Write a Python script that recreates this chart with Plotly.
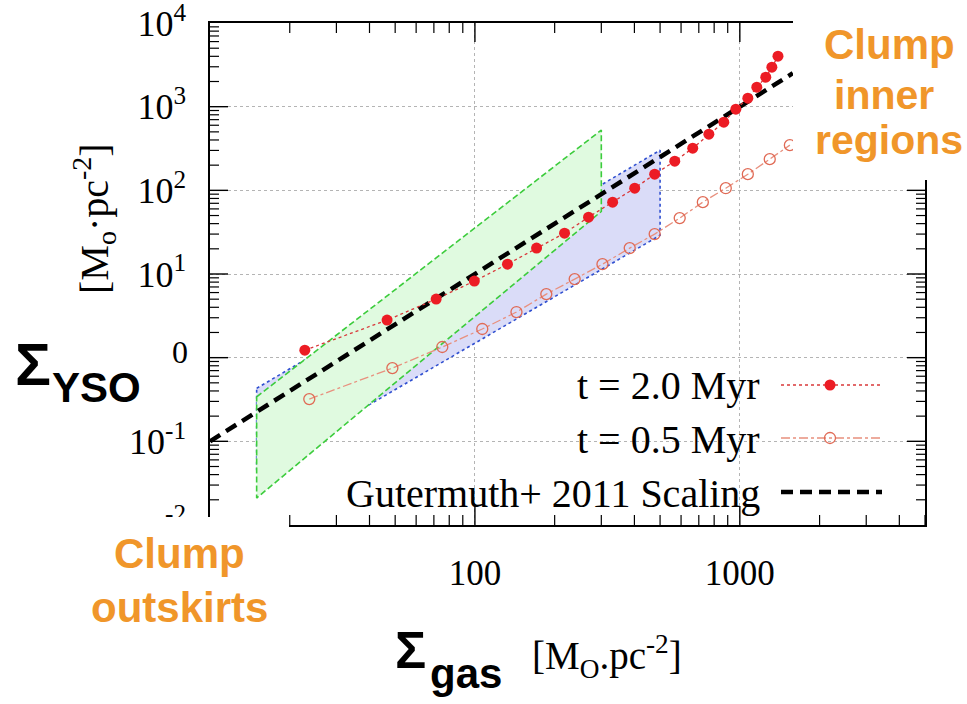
import math
import plotly.graph_objects as go

# ---------------- data ----------------
red_x = [22.8, 46.6, 71.4, 99.5, 132.7, 170.9, 217.9, 268.5, 331, 401, 477,
         568, 664, 764, 870, 966, 1072, 1159, 1253, 1321, 1393]
red_y = [1.23, 2.81, 5.01, 8.22, 13.1, 20.4, 30.8, 47.8, 72.3, 106, 156,
         223, 319, 469, 653, 934, 1264, 1710, 2250, 2964, 4009]

open_x = [23.7, 48.8, 75.3, 106.6, 143.5, 186, 238, 303, 384, 477, 593,
          725, 885, 1072, 1297, 1545]
open_y = [0.32, 0.75, 1.34, 2.20, 3.51, 5.75, 8.69, 13.1, 20.4, 30.0, 46.6,
          72.3, 106, 156, 236, 347]

gut_x = [10, 1585]
gut_y = [0.1, 2512]

green_x = [15, 300, 300, 15, 15]
green_y = [0.34, 525, 56, 0.021, 0.34]

blue_x = [15, 500, 500, 15, 15]
blue_y = [0.43, 302, 29, 0.045, 0.43]

legend_labels = ["t = 2.0 Myr", "t = 0.5 Myr", "Gutermuth+ 2011 Scaling"]

y_tickvals = [0.01, 0.1, 1, 10, 100, 1000, 10000]
y_ticktext = ["<sup>-2</sup>", "10<sup>-1</sup>", " ",
              "10<sup>1</sup>", "10<sup>2</sup>", "10<sup>3</sup>", "10<sup>4</sup>"]
x_tickvals = [100, 1000]
x_ticktext = ["100", "1000"]

x_major = [100, 1000]
x_minor = [k * 10 ** n for n in (1, 2, 3) for k in range(2, 10) if k * 10 ** n <= 5000]
y_major = [0.1, 1, 10, 100, 1000]
y_minor = [k * 10.0 ** n for n in (-2, -1, 0, 1, 2, 3) for k in range(2, 10)]

# ---------------- layout geometry ----------------
W, H = 967, 704
L, R, T, B = 210, 42, 23, 179
PW = W - L - R
PH = H - T - B
XLO, XHI = 1.0, math.log10(5000)
YLO, YHI = -2.0, 4.0


def px(xp):
    return (xp - L) / PW


def py(yp):
    return (H - B - yp) / PH


def xdata(xp):
    return 10 ** (XLO + (xp - L) / PW * (XHI - XLO))


def ydata(yp):
    return 10 ** (YLO + (H - B - yp) / PH * (YHI - YLO))


SERIF = "Liberation Serif"
SANS = "Liberation Sans"
ORANGE = "#F0962A"
RED_LINE = "#d9383a"
RED_MK = "#ec1c24"
OR_LINE = "#e8907e"
OR_MK = "#e06a55"

fig = go.Figure()

# blue band
fig.add_trace(go.Scatter(x=blue_x, y=blue_y, mode="lines", fill="toself",
                         fillcolor="rgb(218,220,248)",
                         line=dict(color="#2f4fd0", width=1.6, dash="dot"),
                         showlegend=False, hoverinfo="skip"))
# green band
fig.add_trace(go.Scatter(x=green_x, y=green_y, mode="lines", fill="toself",
                         fillcolor="rgb(224,250,224)",
                         line=dict(color="#3ccc3c", width=1.6, dash="6px,3px"),
                         showlegend=False, hoverinfo="skip"))


# axis tick marks on all four sides (gnuplot style, pointing inwards)
def xticks_trace(vals, length, width):
    xs, ys = [], []
    for v in vals:
        xs += [v, v, None, v, v, None]
        ys += [10 ** YLO, ydata(H - B - length), None,
               10 ** YHI, ydata(T + length), None]
    return go.Scatter(x=xs, y=ys, mode="lines", line=dict(color="black", width=width),
                      showlegend=False, hoverinfo="skip")


def yticks_trace(vals, length, width):
    xs, ys = [], []
    for v in vals:
        xs += [10 ** XLO, xdata(L + length), None,
               10 ** XHI, xdata(W - R - length), None]
        ys += [v, v, None, v, v, None]
    return go.Scatter(x=xs, y=ys, mode="lines", line=dict(color="black", width=width),
                      showlegend=False, hoverinfo="skip")


fig.add_trace(xticks_trace(x_major, 19, 1.4))
fig.add_trace(xticks_trace(x_minor, 10, 1.2))
fig.add_trace(yticks_trace(y_major, 18, 1.4))
fig.add_trace(yticks_trace(y_minor, 9, 1.2))

# Gutermuth scaling
fig.add_trace(go.Scatter(x=gut_x, y=gut_y, mode="lines",
                         line=dict(color="black", width=4.5, dash="12px,7px"),
                         showlegend=False))
# t = 0.5 Myr
fig.add_trace(go.Scatter(x=open_x, y=open_y, mode="lines+markers",
                         line=dict(color=OR_LINE, width=1.3, dash="dashdot"),
                         marker=dict(symbol="circle-open", size=11, color=OR_MK,
                                     line=dict(width=1.3, color=OR_MK)),
                         showlegend=False))
# t = 2.0 Myr
fig.add_trace(go.Scatter(x=red_x, y=red_y, mode="lines+markers",
                         line=dict(color=RED_LINE, width=1.3, dash="dot"),
                         marker=dict(symbol="circle", size=11, color=RED_MK),
                         showlegend=False))

# key samples (gnuplot style: sample to the right of the text)
key_x = [xdata(781), xdata(882)]
key_mid = [xdata(830)]
key_rows = [385, 438, 492]
fig.add_trace(go.Scatter(x=key_x, y=[ydata(key_rows[0])] * 2, mode="lines",
                         line=dict(color=RED_LINE, width=1.3, dash="dot"),
                         showlegend=False, hoverinfo="skip"))
fig.add_trace(go.Scatter(x=key_mid, y=[ydata(key_rows[0])], mode="markers",
                         marker=dict(symbol="circle", size=11, color=RED_MK),
                         showlegend=False, hoverinfo="skip"))
fig.add_trace(go.Scatter(x=key_x, y=[ydata(key_rows[1])] * 2, mode="lines",
                         line=dict(color=OR_LINE, width=1.3, dash="dashdot"),
                         showlegend=False, hoverinfo="skip"))
fig.add_trace(go.Scatter(x=key_mid, y=[ydata(key_rows[1])], mode="markers",
                         marker=dict(symbol="circle-open", size=11, color=OR_MK,
                                     line=dict(width=1.3, color=OR_MK)),
                         showlegend=False, hoverinfo="skip"))
fig.add_trace(go.Scatter(x=key_x, y=[ydata(key_rows[2])] * 2, mode="lines",
                         line=dict(color="black", width=4.5, dash="12px,7px"),
                         showlegend=False, hoverinfo="skip"))

axis_common = dict(showline=True, linecolor="black", linewidth=1.5, mirror=True,
                   ticks="", showgrid=True, gridcolor="#b4b4b4", gridwidth=1,
                   griddash="dot", zeroline=False, ticklabeloverflow="allow",
                   automargin=False)

fig.update_layout(
    width=W, height=H, margin=dict(l=L, r=R, t=T, b=B, pad=0, autoexpand=False),
    paper_bgcolor="white", plot_bgcolor="white",
    xaxis=dict(type="log", range=[XLO, XHI], tickmode="array",
               tickvals=x_tickvals, ticktext=x_ticktext,
               tickfont=dict(family=SERIF, size=35, color="black"),
               ticklabelstandoff=16, **axis_common),
    yaxis=dict(type="log", range=[YLO - 0.0003, YHI + 0.0003], tickmode="array",
               tickvals=y_tickvals, ticktext=y_ticktext,
               tickfont=dict(family=SERIF, size=36, color="black"),
               ticklabelstandoff=15, **axis_common),
    showlegend=False,
)

shapes = []
# opaque key background (hides grid under the key)
shapes.append(dict(type="rect", xref="paper", yref="paper", layer="between",
                   x0=px(335), x1=px(895), y0=py(523), y1=py(415),
                   fillcolor="white", line=dict(width=0)))
shapes.append(dict(type="rect", xref="paper", yref="paper", layer="between",
                   x0=px(560), x1=px(895), y0=py(415), y1=py(362),
                   fillcolor="white", line=dict(width=0)))
# white patches of the collage
shapes.append(dict(type="rect", xref="paper", yref="paper", layer="above",
                   x0=px(0), x1=px(289), y0=py(H), y1=py(517),
                   fillcolor="white", line=dict(width=0)))
shapes.append(dict(type="rect", xref="paper", yref="paper", layer="above",
                   x0=px(793), x1=px(W), y0=py(180), y1=py(0),
                   fillcolor="white", line=dict(width=0)))
fig.update_layout(shapes=shapes)

anns = []


def ann(text, x, y, size, family, color="black", xanchor="center", yanchor="middle",
        angle=0):
    anns.append(dict(text=text, xref="paper", yref="paper", x=px(x), y=py(y),
                     xanchor=xanchor, yanchor=yanchor, showarrow=False, textangle=angle,
                     font=dict(size=size, family=family, color=color)))


# key text
ann(legend_labels[0], 762, 385, 40, SERIF, xanchor="right")
ann(legend_labels[1], 762, 439, 40, SERIF, xanchor="right")
ann(legend_labels[2], 762, 493, 40, SERIF, xanchor="right")

# axis titles
ann("[M<sub>o</sub>·pc<sup>-2</sup>]", 94, 219, 40, SERIF, angle=-90)
ann("<b>Σ</b>", 410, 650, 52, SANS)
ann("<b>gas</b>", 466, 673, 42, SANS)
ann("[M<sub>O</sub>.pc<sup>-2</sup>]", 607, 656, 39, SERIF)
ann("<b>Σ</b>", 33, 364, 60, SANS)
ann("<b>YSO</b>", 96, 387, 42, SANS)
ann("0", 190, 352, 32, SERIF, xanchor="right")

# orange region labels
ann("<b>Clump</b>", 889, 45, 42, SANS, color=ORANGE)
ann("<b>inner</b>", 884, 95, 41, SANS, color=ORANGE)
ann("<b>regions</b>", 889, 140, 41, SANS, color=ORANGE)
ann("<b>Clump</b>", 179, 553, 42, SANS, color=ORANGE)
ann("<b>outskirts</b>", 179, 607, 42, SANS, color=ORANGE)

fig.update_layout(annotations=anns)

fig.write_html("out.html")
